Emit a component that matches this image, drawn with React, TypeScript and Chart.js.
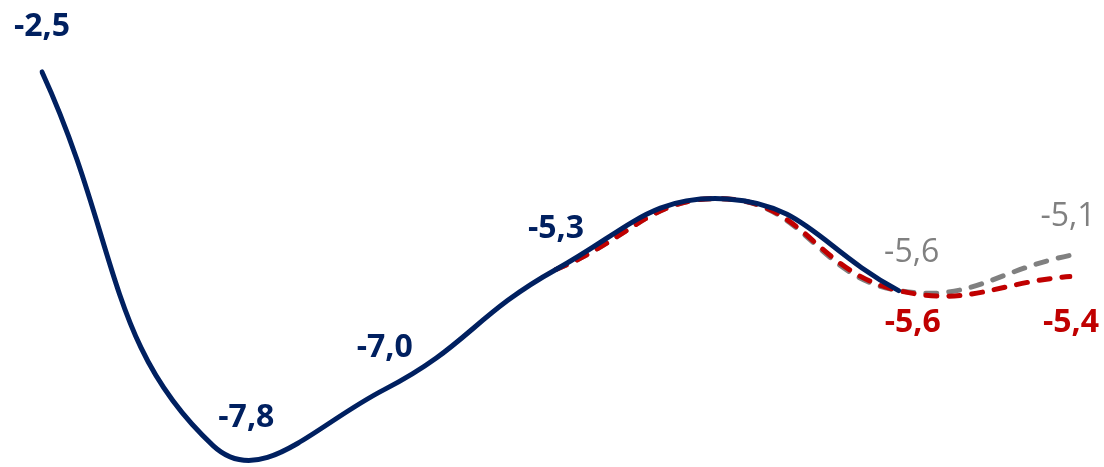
import React, { useEffect, useRef } from "react";
import { Chart, registerables } from "chart.js";

Chart.register(...registerables);

const categories = ["P1", "P2", "P3", "P4", "P5", "P6", "P7"];
const actualValues: (number | null)[] = [-2.5, -7.8, -7.0, -5.3, -4.3, -5.6, null];
const scenarioRed: (number | null)[] = [null, null, null, -5.3, -4.3, -5.6, -5.4];
const scenarioGray: (number | null)[] = [null, null, null, -5.3, -4.3, -5.6, -5.1];

const NAVY = "#002060";
const RED = "#C00000";
const GRAY = "#808080";

// ds: 0 = actual (navy), 1 = red scenario, 2 = gray scenario
const labelSpecs = [
  { ds: 0, i: 0, text: "-2,5", dx: 0, dy: -36, color: NAVY, weight: "bold" },
  { ds: 0, i: 1, text: "-7,8", dx: 33, dy: -19, color: NAVY, weight: "bold" },
  { ds: 0, i: 2, text: "-7,0", dx: 0, dy: -32, color: NAVY, weight: "bold" },
  { ds: 0, i: 3, text: "-5,3", dx: 0, dy: -31, color: NAVY, weight: "bold" },
  { ds: 2, i: 5, text: "-5,6", dx: 13, dy: -29, color: GRAY, weight: "normal" },
  { ds: 1, i: 5, text: "-5,6", dx: 14, dy: 41, color: RED, weight: "bold" },
  { ds: 2, i: 6, text: "-5,1", dx: -2, dy: -29, color: GRAY, weight: "normal" },
  { ds: 1, i: 6, text: "-5,4", dx: 1, dy: 55, color: RED, weight: "bold" },
];

const labelPlugin = {
  id: "valueLabels",
  afterDatasetsDraw(chart: any) {
    const ctx = chart.ctx;
    ctx.save();
    ctx.textAlign = "center";
    ctx.textBaseline = "alphabetic";
    for (const s of labelSpecs) {
      const meta = chart.getDatasetMeta(s.ds);
      const el = meta.data[s.i];
      if (!el) continue;
      ctx.font = `${s.weight === "bold" ? "bold" : "normal"} 32px "Open Sans", "DejaVu Sans", sans-serif`;
      ctx.fillStyle = s.color;
      ctx.fillText(s.text, el.x + s.dx, el.y + s.dy);
    }
    ctx.restore();
  },
};

export default function App() {
  const ref = useRef<HTMLCanvasElement | null>(null);
  useEffect(() => {
    if (!ref.current) return;
    const chart = new Chart(ref.current, {
      type: "line",
      data: {
        labels: categories,
        datasets: [
          {
            data: actualValues,
            borderColor: NAVY,
            borderWidth: 5,
            borderCapStyle: "round",
            pointRadius: 0,
            tension: 0.45,
            fill: false,
          },
          {
            data: scenarioRed,
            borderColor: RED,
            borderWidth: 5,
            borderDash: [11, 12],
            borderCapStyle: "round",
            pointRadius: 0,
            tension: 0.45,
            fill: false,
          },
          {
            data: scenarioGray,
            borderColor: GRAY,
            borderWidth: 5,
            borderDash: [11, 12],
            borderCapStyle: "round",
            pointRadius: 0,
            tension: 0.45,
            fill: false,
          },
        ],
      },
      options: {
        animation: false,
        responsive: false,
        elements: { line: { capBezierPoints: false } },
        layout: { padding: { left: 42, right: 34, top: 0, bottom: 0 } },
        plugins: { legend: { display: false }, tooltip: { enabled: false } },
        scales: {
          x: { display: false, offset: false },
          y: { display: false, min: -8.1, max: -1.48 },
        },
      },
      plugins: [labelPlugin],
    });
    return () => chart.destroy();
  }, []);
  return (
    <div style={{ position: "fixed", left: 0, top: 0, width: 1104, height: 467, background: "#fff" }}>
      <canvas ref={ref} width={1104} height={467} style={{ width: 1104, height: 467 }} />
    </div>
  );
}
